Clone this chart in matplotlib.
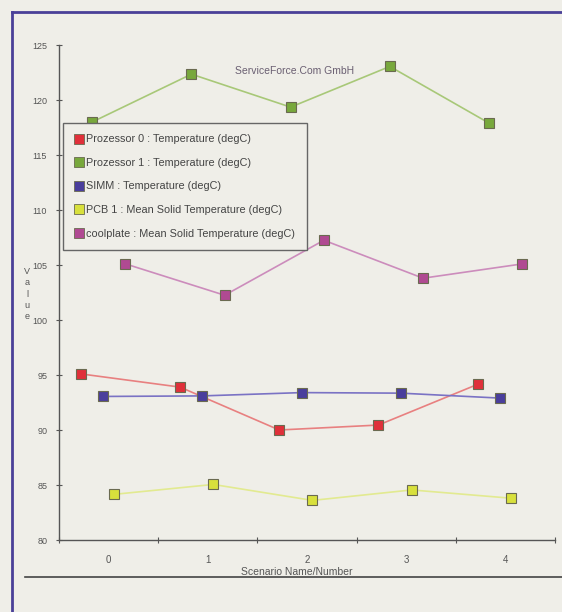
import matplotlib
matplotlib.use('Agg')
import matplotlib.pyplot as plt
from matplotlib.lines import Line2D

plt.rcParams['font.family'] = ['Liberation Sans', 'DejaVu Sans']

# scenario numbers on the x axis
scenarios = [0, 1, 2, 3, 4]

# temperatures (degC)
prozessor_0 = [95.1, 93.9, 90.0, 90.45, 94.15]
prozessor_1 = [118.0, 122.35, 119.35, 123.05, 117.9]
simm = [93.05, 93.1, 93.4, 93.35, 92.9]
pcb_1 = [84.15, 85.05, 83.6, 84.55, 83.8]
coolplate = [105.1, 102.25, 107.25, 103.8, 105.1]

series_labels = [
    'Prozessor 0 : Temperature (degC)',
    'Prozessor 1 : Temperature (degC)',
    'SIMM : Temperature (degC)',
    'PCB 1 : Mean Solid Temperature (degC)',
    'coolplate : Mean Solid Temperature (degC)',
]
y_ticks = [80, 85, 90, 95, 100, 105, 110, 115, 120, 125]

# each series sits at its own offset inside the scenario bin
OFFSETS = [-0.28, -0.165, -0.055, 0.055, 0.17]
MARKER_COLORS = ['#e0303a', '#78a83c', '#4a3e9c', '#d8e03c', '#b04a92']
LINE_COLORS = ['#e88080', '#a8c878', '#7a72c4', '#e2ea90', '#cc8cbc']

BG = '#efeee8'
INK = '#555555'

fig = plt.figure(figsize=(5.62, 6.12), dpi=100, facecolor=BG)
ax = fig.add_axes([59 / 562, 1 - 540 / 612, (555 - 59) / 562, (540 - 45) / 612])
ax.set_facecolor(BG)

all_series = [prozessor_0, prozessor_1, simm, pcb_1, coolplate]
handles = []
for values, off, mc, lc, lab in zip(all_series, OFFSETS, MARKER_COLORS,
                                     LINE_COLORS, series_labels):
    xs = [s + off for s in scenarios]
    ax.plot(xs, values, color=lc, lw=1.2, zorder=2)
    ax.plot(xs, values, ls='none', marker='s', ms=7, mfc=mc, mec='#6a6a50',
            mew=0.8, zorder=3)
    handles.append(Line2D([], [], ls='none', marker='s', ms=7, mfc=mc,
                          mec='#6a6a50', mew=0.6, label=lab))

ax.set_xlim(-0.5, 4.5)
ax.set_ylim(80, 125)
for side in ['top', 'right']:
    ax.spines[side].set_visible(False)
for side in ['left', 'bottom']:
    ax.spines[side].set_color(INK)
    ax.spines[side].set_linewidth(1.0)

ax.set_yticks(y_ticks)
ax.tick_params(axis='y', direction='inout', length=5, color=INK,
               labelsize=6.5, labelcolor=INK, pad=6)
ax.set_xticks([s - 0.5 for s in scenarios] + [4.5])
ax.set_xticklabels([])
ax.set_xticks(scenarios, minor=True)
ax.set_xticklabels([str(s) for s in scenarios], minor=True)
ax.tick_params(axis='x', which='major', direction='inout', length=5, color=INK)
ax.tick_params(axis='x', which='minor', length=0, labelsize=7,
               labelcolor=INK, pad=11)

fig.text(295 / 562, 1 - 71 / 612, 'ServiceForce.Com GmbH', ha='center',
         va='center', fontsize=7.5, color='#6a5f72')
fig.text(297 / 562, 1 - 572 / 612, 'Scenario Name/Number', ha='center',
         va='center', fontsize=7.5, color=INK)
fig.text(27 / 562, 1 - 294 / 612, 'V\na\nl\nu\ne', ha='center', va='center',
         fontsize=6.5, color=INK, linespacing=1.3)

leg = fig.legend(handles=handles, loc='upper left',
                 bbox_to_anchor=(63 / 562, 1 - 123 / 612), borderaxespad=0,
                 frameon=True, fancybox=False, fontsize=7.8, handlelength=0.8,
                 handletextpad=0.3, labelspacing=1.25, borderpad=1.05,
                 labelcolor='#444444')
leg.get_frame().set_facecolor(BG)
leg.get_frame().set_edgecolor('#666666')
leg.get_frame().set_linewidth(1.0)
leg.get_frame().set_alpha(1)

# frame of the printed page
fig.add_artist(Line2D([12 / 562, 12 / 562], [0, 1 - 12 / 612],
                      transform=fig.transFigure, color='#4a4098', lw=2))
fig.add_artist(Line2D([12 / 562, 1], [1 - 12 / 612, 1 - 12 / 612],
                      transform=fig.transFigure, color='#4a4098', lw=2))
fig.add_artist(Line2D([25 / 562, 1], [1 - 577 / 612, 1 - 577 / 612],
                      transform=fig.transFigure, color='#444444', lw=1.2))

fig.savefig('out.png', dpi=100, facecolor=BG)
